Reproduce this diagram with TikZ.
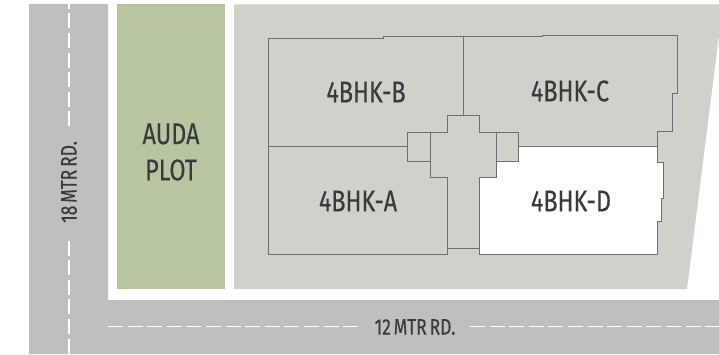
\documentclass[tikz,border=0pt]{standalone}
\usepackage{fontspec}
\setmainfont[FakeStretch=0.78,FakeBold=0.25,WordSpace=0.6]{Fira Sans}
\definecolor{roadGray}{HTML}{BEBFC1}
\definecolor{plotGray}{HTML}{D1D0CB}
\definecolor{plotGreen}{HTML}{B7C6A0}
\definecolor{wallGray}{HTML}{6E6E6E}
\definecolor{labelGray}{HTML}{3A3A3C}
\newcommand{\roadLayout}{%%
  %% The two roads and the plots beside them.
  \fill[roadStyle] (29,4) -- (108,4) -- (108,300) -- (719,300) -- (719,354) -- (29,354) -- cycle;
  \fill[greenStyle] (117,4) rectangle (225,289);
  \fill[plotStyle] (234,4.5) -- (719,4.5) -- (719,35) -- (687,289) -- (234,289) -- cycle;
}
\newcommand{\roadMarks}{%%
  %% The centre lines, broken by the road names.
  \draw[dashStyle] (vstub) -- (vtop);
  \draw[dashStyle] (vstart) -- (vgapa);
  \draw[dashStyle] (vgapb) -- (vend);
  \draw[dashStyle] (hstart) -- (hgapa);
  \draw[dashStyle] (hgapb) -- (hend);
}
\begin{document}
\begin{tikzpicture}[%%
  x=1pt,y=-1pt,%%
  roadStyle/.style={fill=roadGray},%%
  greenStyle/.style={fill=plotGreen},%%
  plotStyle/.style={fill=plotGray},%%
  dashStyle/.style={white,line width=1.3pt,dash pattern=on 15pt off 4.6pt},%%
  wallStyle/.style={draw=wallGray,line width=0.9pt},%%
  flatStyle/.style={text=labelGray,font=\fontsize{30}{33}\selectfont},%%
  roadLabel/.style={text=labelGray,font=\fontsize{22.5}{25}\selectfont}%%
]
\useasboundingbox (0,0) rectangle (719,355);
%%
%%
%% Coordinates of the centre lines.
\coordinate (vstub) at (69,4);
\coordinate (vtop) at (69,9);
\coordinate (vstart) at (69,13.5);
\coordinate (vgapa) at (69,127);
\coordinate (vgapb) at (69,240.5);
\coordinate (vend) at (69,354);
\coordinate (hstart) at (108,326.5);
\coordinate (hgapa) at (359,326.5);
\coordinate (hgapb) at (470,326.5);
\coordinate (hend) at (719,326.5);
%%
%%
\roadLayout
\roadMarks
%%
%% The white flat.
\fill[white] (479,177) -- (496,177) -- (496,161) -- (518,161) -- (518,146) -- (657,146)
  -- (657,162) -- (663.5,162) -- (663.5,198) -- (661,198) -- (661,221) -- (657,221)
  -- (657,254) -- (479,254) -- cycle;
%%
%% The outer walls, clockwise from the top left.
\draw[wallStyle] (268.5,38.5) -- (383,38.5) -- (383,36.5) -- (542,36.5) -- (542,35)
  -- (677,35) -- (677,93) -- (672,93) -- (672,131) -- (657,131) -- (657,162)
  -- (663.5,162) -- (663.5,198) -- (661,198) -- (661,221) -- (657,221) -- (657,254)
  -- (479,254) -- (479,248) -- (447,248) -- (447,254) -- (268.5,254) -- cycle;
%%
%% The walls between the flats and round the core.
\draw[wallStyle] (463,36.5) -- (463,115);
\draw[wallStyle] (268.5,146) -- (407.5,146);
\draw[wallStyle] (518,146) -- (657,146);
\draw[wallStyle] (447,254) -- (447,177) -- (430,177) -- (430,161) -- (407.5,161) -- (407.5,132)
  -- (447,132) -- (447,115) -- (479,115) -- (479,132) -- (518,132) -- (518,161)
  -- (496,161) -- (496,177) -- (479,177) -- (479,254);
\draw[wallStyle] (430,132) -- (430,161);
\draw[wallStyle] (496,132) -- (496,161);
%%
%% The names.
\node[flatStyle] (flatB) at (366,92) {4BHK-B};
\node[flatStyle] (flatC) at (570,91) {4BHK-C};
\node[flatStyle] (flatA) at (358,201) {4BHK-A};
\node[flatStyle] (flatD) at (571,201) {4BHK-D};
\node[flatStyle] (audaName) at (171,134) {AUDA};
\node[flatStyle] (plotName) at (171,170) {PLOT};
\node[roadLabel] (roadLeft) at (69,182) [rotate=90] {18 MTR RD.};
\node[roadLabel] (roadBottom) at (415,327) {12 MTR RD.};
\end{tikzpicture}
\end{document}
